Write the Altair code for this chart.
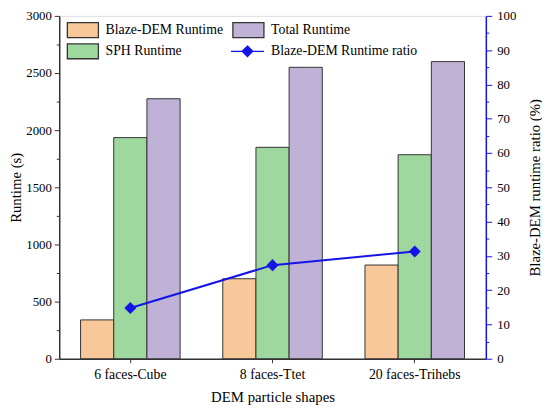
import altair as alt
import pandas as pd

# ---- data ----
shapes = ["6 faces-Cube", "8 faces-Ttet", "20 faces-Trihebs"]
blaze_runtime = [340, 700, 820]
sph_runtime = [1935, 1850, 1785]
total_runtime = [2275, 2550, 2600]
ratio_pct = [14.8, 27.3, 31.3]

bar_series = ["Blaze-DEM Runtime", "SPH Runtime", "Total Runtime"]
# legend grid is filled column by column
legend_order = ["Blaze-DEM Runtime", "SPH Runtime", "Total Runtime", "Blaze-DEM Runtime ratio"]

rows = []
for i, s in enumerate(shapes):
    for name, vals in zip(bar_series, [blaze_runtime, sph_runtime, total_runtime]):
        rows.append({"shape": s, "series": name, "value": vals[i]})
bars_df = pd.DataFrame(rows)
ratio_df = pd.DataFrame({"shape": shapes, "ratio": ratio_pct,
                         "series": ["Blaze-DEM Runtime ratio"] * len(shapes)})

FONT = "Liberation Serif, Times New Roman, DejaVu Serif, serif"
BLUE = "#1414E6"
ORANGE = "#F9C89A"
GREEN = "#9ED89E"
PURPLE = "#BFB2D6"
RECT = "M-1.97,-0.94H1.97V0.94H-1.97Z"
DIAMOND_LINE = "M-2.21,0H1.97M-0.12,-0.67L0.55,0L-0.12,0.67L-0.79,0Z"

color_scale = alt.Scale(domain=legend_order, range=[ORANGE, GREEN, PURPLE, BLUE])
stroke_scale = alt.Scale(domain=legend_order, range=["#333333", "#333333", "#333333", BLUE])
shape_scale = alt.Scale(domain=legend_order, range=[RECT, RECT, RECT, DIAMOND_LINE])

legend = alt.Legend(
    title=None, orient="none", legendX=15, legendY=5, columns=2,
    symbolSize=256, symbolStrokeWidth=1.3, symbolOpacity=1, labelFont=FONT,
    labelFontSize=14, labelColor="black", labelOffset=14, columnPadding=4,
    rowPadding=0, padding=0,
)

x_enc = alt.X(
    "shape:N", sort=shapes,
    scale=alt.Scale(paddingInner=0.3, paddingOuter=0.15),
    axis=alt.Axis(title="DEM particle shapes", labelAngle=0, labelFont=FONT,
                  labelFontSize=14, labelColor="black", titleFont=FONT,
                  titleFontSize=15, titleFontWeight="normal", titleColor="black",
                  tickSize=4, tickColor="#333", domainColor="#333", domainWidth=1.5,
                  labelPadding=5, titlePadding=8),
)

bars = alt.Chart(bars_df).mark_bar(strokeWidth=1).encode(
    x=x_enc,
    xOffset=alt.XOffset("series:N", sort=bar_series,
                        scale=alt.Scale(paddingInner=0, paddingOuter=0)),
    y=alt.Y("value:Q", scale=alt.Scale(domain=[0, 3000], nice=False),
            axis=alt.Axis(
                title="Runtime (s)", values=list(range(0, 3001, 250)), format="d",
                labelExpr="datum.value % 500 === 0 ? datum.label : ''",
                tickDash={"condition": {"test": "datum.value % 500 !== 0", "value": [3, 10]},
                          "value": [10, 0]},
                tickSize=5, grid=False, domainColor="#333", domainWidth=1.5,
                tickColor="#333", labelFont=FONT, labelFontSize=13, labelColor="black",
                labelPadding=3, titleFont=FONT, titleFontSize=15,
                titleFontWeight="normal", titleColor="black", titlePadding=2)),
    color=alt.Color("series:N", scale=color_scale, legend=legend),
    stroke=alt.Stroke("series:N", scale=stroke_scale, legend=legend),
)

y_right = alt.Y(
    "ratio:Q", scale=alt.Scale(domain=[0, 100], nice=False),
    axis=alt.Axis(
        orient="right", title="Blaze-DEM runtime ratio (%)",
        values=list(range(0, 101, 5)),
        labelExpr="datum.value % 10 === 0 ? datum.label : ''",
        tickDash={"condition": {"test": "datum.value % 10 !== 0", "value": [3, 10]},
                  "value": [10, 0]},
        tickSize=6, grid=False, domainColor=BLUE, domainWidth=1.5, tickColor=BLUE,
        labelFont=FONT, labelFontSize=13, labelColor="black", labelPadding=5,
        titleFont=FONT, titleFontSize=15, titleFontWeight="normal",
        titleColor="black", titleAngle=270, titleBaseline="top", titlePadding=12),
)

line = alt.Chart(ratio_df).mark_line(color=BLUE, strokeWidth=2).encode(
    x=alt.X("shape:N", sort=shapes), y=y_right)

points = alt.Chart(ratio_df).mark_point(shape="diamond", filled=True, size=150,
                                        color=BLUE, opacity=1).encode(
    x=alt.X("shape:N", sort=shapes), y=y_right)

legend_only = alt.Chart(ratio_df).mark_point(filled=True, size=0, opacity=1).encode(
    x=alt.X("shape:N", sort=shapes), y=y_right,
    color=alt.Color("series:N", scale=color_scale, legend=legend),
    stroke=alt.Stroke("series:N", scale=stroke_scale, legend=legend),
    shape=alt.Shape("series:N", scale=shape_scale, legend=legend),
)

right = alt.layer(line, points, legend_only)

chart = alt.layer(bars, right).resolve_scale(y="independent").properties(
    width=433, height=348,
    autosize=alt.AutoSizeParams(type="none"),
    padding={"left": 52, "top": 5, "right": 57, "bottom": 48},
).configure_view(stroke="#333", strokeWidth=1.2).configure(background="white")

chart.save("out.html", embed_options={"renderer": "svg", "actions": False})
